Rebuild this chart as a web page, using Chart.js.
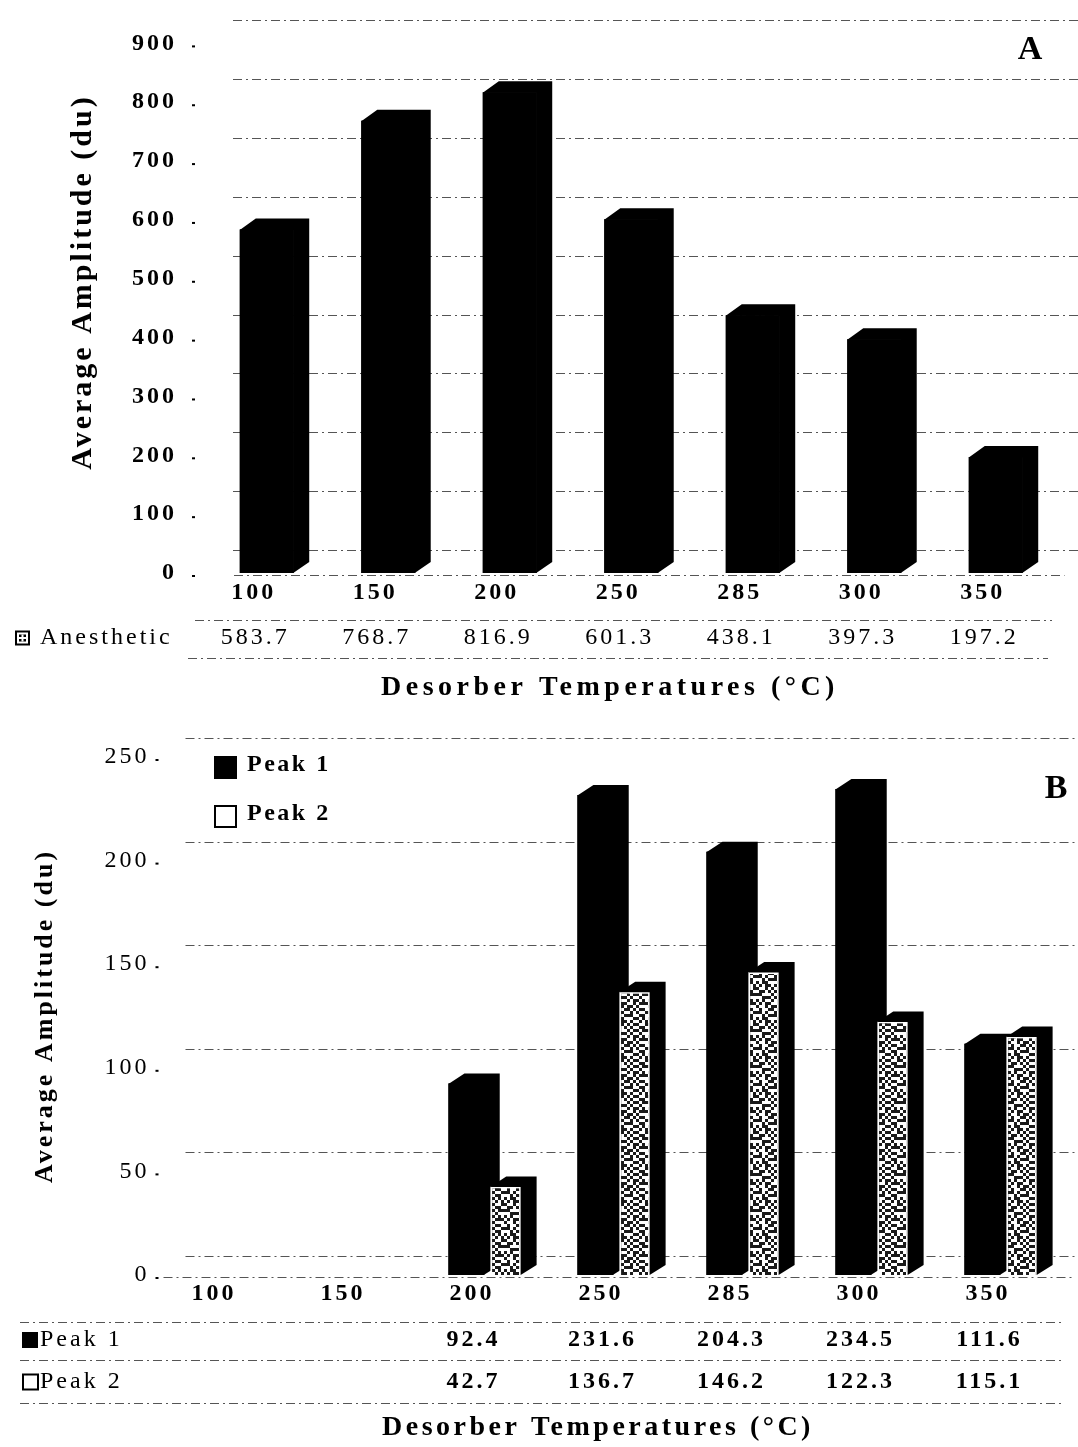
<!DOCTYPE html>
<html>
<head>
<meta charset="utf-8">
<script src="https://cdn.jsdelivr.net/npm/chart.js@4.4.0/dist/chart.umd.min.js"></script>
<style>
  body { margin: 0; background: #fff; }
  .caja { position: relative; width: 1078px; }
</style>
</head>
<body>
<div class="caja" style="height:720px"><canvas id="graficaA"></canvas></div>
<div class="caja" style="height:727px"><canvas id="graficaB"></canvas></div>
<script>
// Datos

const temperaturas = ['100', '150', '200', '250', '285', '300', '350'];
const anestesico = [583.7, 768.7, 816.9, 601.3, 438.1, 397.3, 197.2];
const pico1 = [null, null, 92.4, 231.6, 204.3, 234.5, 111.6];
const pico2 = [null, null, 42.7, 136.7, 146.2, 122.3, 115.1];
const ejeA = { min: 0, max: 900, paso: 100 };
const ejeB = { min: 0, max: 250, paso: 50 };

const serif = "'Liberation Serif', 'DejaVu Serif', serif";

// Textura punteada de Peak 2 (fija, no aleatoria)
const puntos = [
  '010011010110',
  '110100101001',
  '001011100110',
  '101100011010',
  '010110100101',
  '100101011001',
  '011010100110',
  '110001011011',
  '001110100100',
  '101001011010',
  '010110010111',
  '100101101000'
];

function textura(ctxDestino) {
  const c = document.createElement('canvas');
  c.width = 36;
  c.height = 36;
  const g = c.getContext('2d');
  g.fillStyle = '#fff';
  g.fillRect(0, 0, 36, 36);
  g.fillStyle = '#1a1a1a';
  puntos.forEach((fila, j) => {
    for (let i = 0; i < fila.length; i++) {
      if (fila[i] === '1') g.fillRect(i * 3, j * 3, 3, 3);
    }
  });
  return ctxDestino.createPattern(c, 'repeat');
}

// Utilidades de dibujo

function texto(ctx, s, x, y, font, align, espacio) {
  ctx.save();
  ctx.font = font;
  ctx.letterSpacing = espacio || '0px';
  ctx.textAlign = align || 'left';
  ctx.textBaseline = 'middle';
  ctx.fillStyle = '#000';
  ctx.fillText(s, x, y);
  ctx.restore();
}

function linea(ctx, x1, x2, y) {
  ctx.save();
  ctx.strokeStyle = '#555';
  ctx.lineWidth = 1;
  ctx.setLineDash([9, 4, 2, 4]);
  ctx.beginPath();
  ctx.moveTo(x1, Math.round(y) + 0.5);
  ctx.lineTo(x2, Math.round(y) + 0.5);
  ctx.stroke();
  ctx.restore();
}

function icono(ctx, tipo, x, y, s) {
  ctx.save();
  ctx.fillStyle = '#000';
  ctx.strokeStyle = '#000';
  if (tipo === 'lleno') {
    ctx.fillRect(x, y, s, s);
  } else if (tipo === 'vacio') {
    ctx.lineWidth = 2;
    ctx.strokeRect(x + 1, y + 1, s - 2, s - 2);
  } else {
    ctx.fillRect(x, y, s, s);
    ctx.fillStyle = '#fff';
    ctx.fillRect(x + 2, y + 2, s - 4, s - 4);
    ctx.fillStyle = '#000';
    ctx.fillRect(x + 4, y + 4, s - 8, s - 8);
    ctx.fillStyle = '#fff';
    ctx.fillRect(x + s / 2 - 1, y + 4, 2, s - 8);
    ctx.fillRect(x + 4, y + s / 2 - 1, s - 8, 2);
  }
  ctx.restore();
}

// Plugin: efecto 3D, rejilla del fondo, tabla de datos y textos

function plugin3D(cfg) {
  return {
    id: 'efecto3d',
    beforeDraw(chart) {
      chart.ctx.letterSpacing = cfg.espacio;
    },
    beforeDatasetsDraw(chart) {
      const ctx = chart.ctx;
      const area = chart.chartArea;
      const y = chart.scales.y;
      y.ticks.forEach(t => {
        const yy = y.getPixelForValue(t.value);
        linea(ctx, area.left + cfg.fondo.dx, chart.width, yy - cfg.fondo.dy);
        ctx.fillStyle = '#000';
        ctx.fillRect(area.left - cfg.punto, yy + 2, 3, 2);
      });
      linea(ctx, area.left + cfg.piso, area.right + 8, y.getPixelForValue(0) + 2);
    },
    afterDatasetsDraw(chart) {
      // cada serie en su orden: cara frontal y luego caras lateral y superior
      const ctx = chart.ctx;
      ctx.save();
      ctx.letterSpacing = '0px';
      chart.data.datasets.forEach((ds, k) => {
        const meta = chart.getDatasetMeta(k);
        meta.data.forEach((el, i) => {
          if (ds.data[i] == null) return;
          el.draw(ctx);
          const p = el.getProps(['x', 'y', 'base', 'width'], true);
          const l = p.x - p.width / 2;
          const r = p.x + p.width / 2 - 0.5;
          ctx.fillStyle = '#000';
          ctx.beginPath();
          ctx.moveTo(l, p.y + 0.5);
          ctx.lineTo(l + cfg.dx, p.y - cfg.dy);
          ctx.lineTo(r + cfg.dx, p.y - cfg.dy);
          ctx.lineTo(r + cfg.dx, p.base - cfg.dy);
          ctx.lineTo(r, p.base);
          ctx.lineTo(r, p.y + 0.5);
          ctx.closePath();
          ctx.fill();
        });
      });
      ctx.restore();
    },
    afterDraw(chart) {
      const ctx = chart.ctx;
      const x = chart.scales.x;

      // titulo del eje y
      ctx.save();
      ctx.translate(cfg.tituloY.x, cfg.tituloY.y);
      ctx.rotate(-Math.PI / 2);
      texto(ctx, 'Average Amplitude (du)', 0, 0, cfg.tituloY.font, 'center', cfg.tituloY.espacio);
      ctx.restore();

      // letra del panel
      texto(ctx, cfg.letra.s, cfg.letra.x, cfg.letra.y, 'bold 34px ' + serif, 'center', '0px');

      // tabla de datos
      cfg.lineas.forEach(l => linea(ctx, l[0], l[1], l[2]));
      cfg.filas.forEach(f => {
        icono(ctx, f.icono, f.ix, f.y - f.tam / 2, f.tam);
        texto(ctx, f.nombre, f.tx, f.y, '24px ' + serif, 'left', cfg.espacioFila);
        f.valores.forEach((v, i) => {
          if (v == null) return;
          const px = x.getPixelForValue(i) + cfg.desfase;
          texto(ctx, v.toFixed(1), px + 1.5, f.y, cfg.fuenteValor, 'center', '3px');
        });
      });

      // titulo del eje x
      texto(ctx, 'Desorber Temperatures (\u00B0C)', cfg.tituloX.x, cfg.tituloX.y,
        'bold 28px ' + serif, 'center', cfg.tituloX.espacio);

      // leyenda dentro de la grafica
      (cfg.leyenda || []).forEach(l => {
        icono(ctx, l.icono, 214, l.y - 11, 23);
        texto(ctx, l.nombre, 247, l.y - 2, 'bold 24px ' + serif, 'left', '2.5px');
      });
    }
  };
}

// Grafica A

const graficaA = document.getElementById('graficaA');

const cfgA = {
  espacio: '3px',
  dx: 16,
  dy: 11,
  fondo: { dx: 27, dy: 23 },
  piso: 28,
  punto: 14,
  desfase: -13,
  tituloY: { x: 83, y: 282, font: 'bold 30px ' + serif, espacio: '3px' },
  letra: { s: 'A', x: 1030, y: 50 },
  tituloX: { x: 610, y: 688, espacio: '4.5px' },
  lineas: [[195, 1052, 620], [188, 1048, 658]],
  espacioFila: '3px',
  fuenteValor: '24px ' + serif,
  filas: [
    { nombre: 'Anesthetic', valores: anestesico, icono: 'cruz', y: 638, ix: 15, tx: 40, tam: 15 }
  ]
};

const chartA = new Chart(graficaA, {
  type: 'bar',
  data: {
    labels: temperaturas,
    datasets: [{
      label: 'Anesthetic',
      data: anestesico,
      backgroundColor: '#000',
      borderWidth: 0,
      categoryPercentage: 1,
      barPercentage: 0.444
    }]
  },
  options: {
    responsive: true,
    maintainAspectRatio: false,
    animation: false,
    devicePixelRatio: 1,
    layout: { padding: { top: 37, right: 21.5, left: 0, bottom: 0 } },
    plugins: { legend: { display: false }, tooltip: { enabled: false } },
    scales: {
      x: {
        grid: { display: false, drawTicks: false },
        border: { display: false },
        ticks: { color: '#000', font: { family: serif, size: 24, weight: 'bold' }, padding: 5, labelOffset: -13 },
        afterFit: s => { s.height = 147; }
      },
      y: {
        min: ejeA.min,
        max: ejeA.max,
        grid: { display: false, drawTicks: false },
        border: { display: false },
        ticks: { stepSize: ejeA.paso, color: '#000', font: { family: serif, size: 24, weight: 'bold' }, padding: 29 },
        afterFit: s => { s.width = 206; }
      }
    }
  },
  plugins: [plugin3D(cfgA)]
});

// Grafica B

const graficaB = document.getElementById('graficaB');
const punteado = textura(graficaB.getContext('2d'));

const cfgB = {
  espacio: '3px',
  dx: 16,
  dy: 10,
  fondo: { dx: 22, dy: 19 },
  piso: 0,
  punto: 8,
  desfase: -14,
  tituloY: { x: 45, y: 296, font: 'bold 26px ' + serif, espacio: '3px' },
  letra: { s: 'B', x: 1056, y: 69 },
  tituloX: { x: 598, y: 708, espacio: '3.5px' },
  lineas: [[20, 1062, 602], [20, 1062, 640], [20, 1062, 683]],
  espacioFila: '3px',
  fuenteValor: 'bold 24px ' + serif,
  filas: [
    { nombre: 'Peak 1', valores: pico1, icono: 'lleno', y: 620, ix: 22, tx: 40, tam: 16 },
    { nombre: 'Peak 2', valores: pico2, icono: 'vacio', y: 662, ix: 22, tx: 40, tam: 17 }
  ],
  leyenda: [
    { nombre: 'Peak 1', icono: 'lleno', y: 47 },
    { nombre: 'Peak 2', icono: 'vacio', y: 96 }
  ]
};

const chartB = new Chart(graficaB, {
  type: 'bar',
  data: {
    labels: temperaturas,
    datasets: [{
      label: 'Peak 1',
      data: pico1,
      backgroundColor: '#000',
      borderWidth: 0,
      categoryPercentage: 0.61,
      barPercentage: 0.91
    }, {
      label: 'Peak 2',
      data: pico2,
      backgroundColor: punteado,
      borderColor: '#fff',
      borderWidth: 2,
      categoryPercentage: 0.61,
      barPercentage: 0.785
    }]
  },
  options: {
    responsive: true,
    maintainAspectRatio: false,
    animation: false,
    devicePixelRatio: 1,
    layout: { padding: { top: 37, right: 11.5, left: 0, bottom: 0 } },
    plugins: { legend: { display: false }, tooltip: { enabled: false } },
    scales: {
      x: {
        grid: { display: false, drawTicks: false },
        border: { display: false },
        ticks: { color: '#000', font: { family: serif, size: 24, weight: 'bold' }, padding: 4, labelOffset: -14 },
        afterFit: s => { s.height = 172; }
      },
      y: {
        min: ejeB.min,
        max: ejeB.max,
        grid: { display: false, drawTicks: false },
        border: { display: false },
        ticks: { stepSize: ejeB.paso, color: '#000', font: { family: serif, size: 24 }, padding: 14 },
        afterFit: s => { s.width = 163.5; }
      }
    }
  },
  plugins: [plugin3D(cfgB)]
});
</script>
</body>
</html>
